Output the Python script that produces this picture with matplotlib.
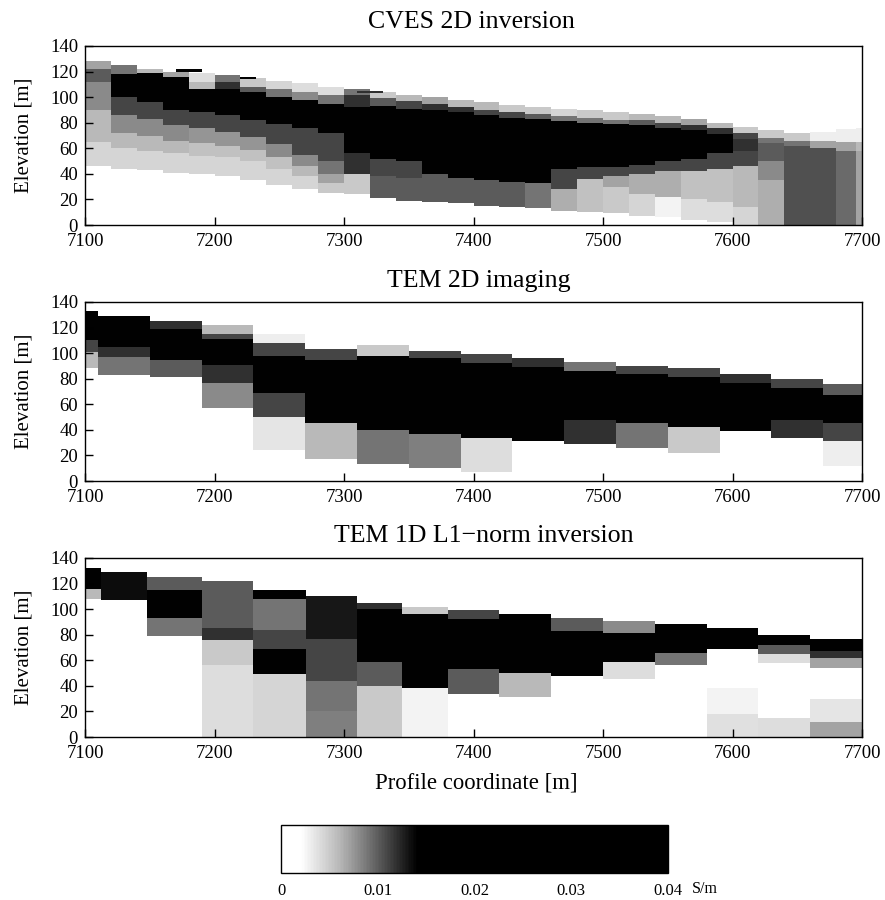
import matplotlib
matplotlib.use("Agg")
import matplotlib.pyplot as plt
from matplotlib.colors import LinearSegmentedColormap, Normalize
from matplotlib.cm import ScalarMappable

plt.rcParams['font.family'] = ['Liberation Serif', 'DejaVu Serif']

titles = ["CVES 2D inversion", "TEM 2D imaging", "TEM 1D L1\u2212norm inversion"]
y_ticks = [0, 20, 40, 60, 80, 100, 120, 140]
x_ticks = [7100, 7200, 7300, 7400, 7500, 7600, 7700]
cbar_ticks = [0, 0.01, 0.02, 0.03, 0.04]
cbar_labels = ["0", "0.01", "0.02", "0.03", "0.04"]

# --- CVES: each column = top elevation, then (conductivity, lower boundary) layers
cves_edges = [7100, 7120, 7140, 7160, 7180, 7200, 7220, 7240, 7260, 7280, 7300, 7320, 7340, 7360, 7380, 7400,
              7420, 7440, 7460, 7480, 7500, 7520, 7540, 7560, 7580, 7600, 7620, 7640, 7660, 7680, 7695, 7700]
cves_tops = [128, 125, 122, 120, 119, 117, 115, 113, 111, 108, 106, 104, 102, 100, 98, 96,
             94, 92, 91, 90, 88, 87, 85, 83, 80, 77, 74, 72, 73, 75, 76]
cves_layers = [
    [(.007, 122), (.010, 112), (.008, 90), (.006, 65), (.0045, 46)],
    [(.009, 118), (.014, 100), (.011, 86), (.008, 72), (.006, 60), (.0045, 44)],
    [(.006, 119), (.014, 96), (.011, 83), (.008, 70), (.006, 58), (.0045, 43)],
    [(.007, 116), (.014, 90), (.011, 78), (.008, 66), (.006, 56), (.0045, 41)],
    [(.004, 112), (.006, 106), (.014, 88), (.011, 76), (.0075, 64), (.0055, 54), (.0045, 40)],
    [(.009, 112), (.012, 106), (.014, 86), (.011, 73), (.0075, 62), (.0055, 53), (.0045, 38)],
    [(.005, 108), (.010, 104), (.014, 82), (.011, 69), (.0075, 59), (.0055, 50), (.0045, 35)],
    [(.0045, 106), (.009, 100), (.014, 79), (.011, 63), (.008, 53), (.0055, 44), (.0045, 31)],
    [(.004, 104), (.008, 98), (.014, 76), (.011, 55), (.008, 46), (.006, 38), (.0045, 28)],
    [(.004, 102), (.009, 95), (.014, 72), (.011, 50), (.009, 40), (.007, 33), (.005, 25)],
    [(.009, 102), (.012, 92), (.014, 56), (.012, 40), (.005, 24)],
    [(.005, 99), (.010, 93), (.014, 52), (.011, 38), (.010, 21)],
    [(.006, 97), (.011, 91), (.014, 50), (.011, 37), (.010, 19)],
    [(.007, 95), (.012, 90), (.014, 40), (.010, 18)],
    [(.006, 92), (.012, 88), (.014, 37), (.010, 17)],
    [(.006, 90), (.011, 86), (.014, 35), (.010, 15)],
    [(.005, 88), (.011, 84), (.014, 34), (.010, 14)],
    [(.005, 87), (.010, 83), (.014, 33), (.009, 13)],
    [(.0045, 85), (.009, 81), (.014, 44), (.011, 28), (.0065, 11)],
    [(.005, 84), (.009, 80), (.014, 45), (.011, 36), (.0055, 10)],
    [(.005, 82), (.009, 79), (.014, 45), (.011, 38), (.007, 30), (.005, 9)],
    [(.006, 82), (.010, 78), (.014, 47), (.011, 40), (.0065, 24), (.0045, 7)],
    [(.006, 80), (.011, 76), (.014, 50), (.011, 42), (.0065, 22), (.0028, 6)],
    [(.007, 78), (.012, 74), (.014, 52), (.011, 42), (.0055, 20), (.004, 4)],
    [(.006, 76), (.012, 71), (.014, 56), (.011, 44), (.0055, 18), (.004, 2)],
    [(.005, 72), (.011, 67), (.012, 58), (.011, 46), (.006, 14), (.0045, 0)],
    [(.005, 68), (.009, 64), (.010, 50), (.008, 35), (.0065, 0)],
    [(.005, 66), (.009, 62), (.0105, 0)],
    [(.003, 66), (.007, 60), (.0105, 0)],
    [(.003, 65), (.007, 58), (.0095, 0)],
    [(.003, 65), (.006, 58), (.007, 0)],
]
# small isolated cells of the CVES section: x0, x1, bottom, top, conductivity
cves_patches = [(7170, 7190, 120, 122, .014), (7220, 7232, 114, 116, .014), (7310, 7330, 103, 105, .012)]

# --- TEM 2D imaging
img_edges = [7100, 7110, 7150, 7190, 7230, 7270, 7310, 7350, 7390, 7430, 7470, 7510, 7550, 7590, 7630, 7670, 7700]
img_tops = [133, 129, 125, 122, 115, 103, 106, 102, 99, 96, 93, 90, 88, 84, 80, 76]
img_layers = [
    [(.014, 110), (.011, 101), (.006, 88)],
    [(.014, 105), (.012, 97), (.009, 83)],
    [(.012, 119), (.014, 95), (.010, 81)],
    [(.006, 115), (.011, 111), (.014, 91), (.012, 77), (.008, 57)],
    [(.003, 108), (.011, 98), (.014, 69), (.011, 50), (.0035, 24)],
    [(.011, 95), (.014, 45), (.006, 17)],
    [(.005, 98), (.014, 40), (.009, 13)],
    [(.011, 96), (.014, 37), (.0085, 10)],
    [(.011, 92), (.014, 34), (.004, 7)],
    [(.012, 89), (.014, 31)],
    [(.009, 86), (.014, 48), (.012, 29)],
    [(.011, 84), (.014, 45), (.009, 26)],
    [(.011, 81), (.014, 42), (.005, 22)],
    [(.012, 77), (.014, 39)],
    [(.011, 73), (.014, 48), (.012, 34)],
    [(.010, 67), (.014, 45), (.011, 31), (.003, 12)],
]

# --- TEM 1D L1-norm inversion
l1_edges = [7100, 7112, 7148, 7190, 7230, 7271, 7310, 7345, 7380, 7420, 7460, 7500, 7540, 7580, 7620, 7660, 7700]
l1_tops = [132, 129, 125, 122, 115, 110, 105, 102, 99, 96, 93, 91, 88, 85, 80, 77]
l1_layers = [
    [(.014, 116), (.006, 108)],
    [(.0135, 107)],
    [(.010, 115), (.014, 93), (.009, 79)],
    [(.010, 85), (.012, 76), (.005, 56), (.004, 0)],
    [(.014, 108), (.009, 84), (.011, 69), (.014, 49), (.0045, 0)],
    [(.013, 77), (.011, 44), (.009, 20), (.0085, 0)],
    [(.012, 100), (.014, 59), (.010, 40), (.005, 0)],
    [(.005, 96), (.014, 38), (.0028, 0)],
    [(.011, 92), (.014, 53), (.010, 34)],
    [(.014, 50), (.006, 31)],
    [(.010, 83), (.014, 48)],
    [(.008, 81), (.014, 59), (.004, 45)],
    [(.014, 66), (.009, 56)],
    [(.014, 69), (.0, 38), (.0028, 18), (.0038, 0)],
    [(.014, 72), (.010, 65), (.004, 58), (.0, 15), (.004, 0)],
    [(.014, 67), (.012, 62), (.007, 54), (.0, 30), (.0035, 12), (.007, 0)],
]

cmap = LinearSegmentedColormap.from_list(
    "sm", [(0, "white"), (0.002 / 0.04, "white"), (0.006 / 0.04, "#b8b8b8"), (0.014 / 0.04, "black"), (1, "black")])
norm = Normalize(0, 0.04)


def section(ax, edges, tops, layers):
    for i, top in enumerate(tops):
        upper = top
        for value, lower in layers[i]:
            ax.bar(edges[i], upper - lower, width=edges[i + 1] - edges[i], bottom=lower, align='edge',
                   color=cmap(norm(value)), linewidth=0, antialiased=False)
            upper = lower


W, H = 885, 900
fig = plt.figure(figsize=(W / 100, H / 100), dpi=100)


def px_axes(x0, y0, x1, y1):
    return fig.add_axes([x0 / W, 1 - y1 / H, (x1 - x0) / W, (y1 - y0) / H])


boxes = [(85, 46, 862, 225), (85, 302, 862, 481), (85, 558, 862, 737)]
sections = [(cves_edges, cves_tops, cves_layers), (img_edges, img_tops, img_layers), (l1_edges, l1_tops, l1_layers)]
title_px = [(471, 22), (479, 281), (484, 536)]
for box, title, sec, tp in zip(boxes, titles, sections, title_px):
    ax = px_axes(*box)
    section(ax, *sec)
    ax.set_xlim(x_ticks[0], x_ticks[-1])
    ax.set_ylim(y_ticks[0], y_ticks[-1])
    ax.set_xticks(x_ticks)
    ax.set_yticks(y_ticks)
    ax.tick_params(direction='in', length=5.5, width=1, labelsize=13.5, pad=5)
    ax.tick_params(axis='x', pad=5.5)
    for s in ax.spines.values():
        s.set_linewidth(1)
    ax.set_ylabel("Elevation [m]", fontsize=15, labelpad=12)
    fig.text(tp[0] / W, 1 - tp[1] / H, title, fontsize=18.6, ha='center', va='center')
    if title == titles[0]:
        for x0, x1, b, t, v in cves_patches:
            ax.bar(x0, t - b, width=x1 - x0, bottom=b, align='edge', color=cmap(norm(v)), linewidth=0)
    if title == titles[2]:
        ax.set_xlabel("Profile coordinate [m]", fontsize=16.4, labelpad=8, x=0.503)

cax = px_axes(281, 825, 668, 873)
cb = fig.colorbar(ScalarMappable(norm=norm, cmap=cmap), cax=cax, orientation='horizontal')
cb.set_ticks(cbar_ticks)
cb.set_ticklabels(cbar_labels)
cax.tick_params(length=0, labelsize=12, pad=7)
cb.outline.set_linewidth(1)
fig.text(692 / W, 1 - 889 / H, "S/m", fontsize=11.5, va='center', ha='left')
fig.savefig("out.png", dpi=100)
